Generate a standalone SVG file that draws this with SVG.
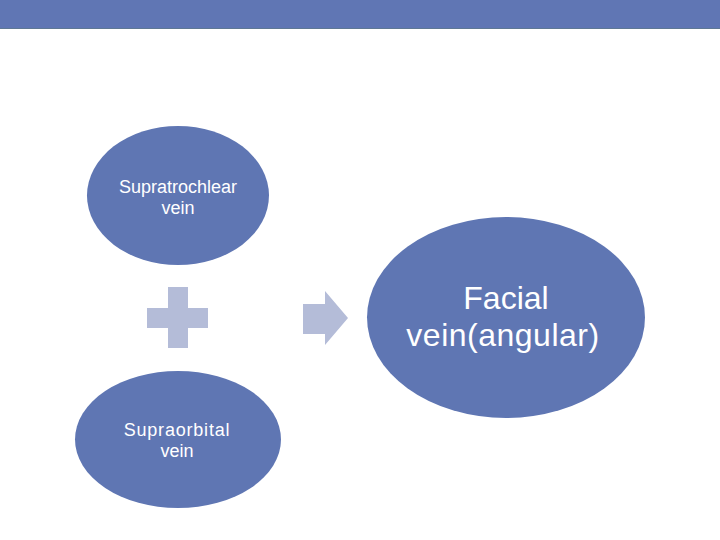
<svg xmlns="http://www.w3.org/2000/svg" width="720" height="540" viewBox="0 0 720 540">
<style>
.node{fill:#5F76B3}
.t{fill:#fff;font-family:"Liberation Sans",Arial,sans-serif;text-anchor:middle}
.s{font-size:18px}
.l{font-size:32px}
.sym{fill:#B4BCD8}
</style>
<rect x="0" y="0" width="720" height="28" fill="#6076B4"/>
<rect x="0" y="28" width="720" height="1" fill="#5F7894"/>
<g id="supratrochlear">
<ellipse class="node" cx="178" cy="195.5" rx="91" ry="69.5"/>
<text class="t s" x="178" y="193">Supratrochlear</text>
<text class="t s" x="178" y="214">vein</text>
</g>
<g id="supraorbital">
<ellipse class="node" cx="178" cy="439.5" rx="103" ry="68.5"/>
<text class="t s" x="177" y="436" letter-spacing="0.8">Supraorbital</text>
<text class="t s" x="177" y="457">vein</text>
</g>
<g id="facial">
<ellipse class="node" cx="506" cy="317.5" rx="139" ry="100.5"/>
<text class="t l" x="506" y="309">Facial</text>
<text class="t l" x="503" y="346" letter-spacing="0.5">vein(angular)</text>
</g>
<g id="connectors">
<path class="sym" d="M168 287H188V308H208V328H188V348H168V328H147V308H168Z"/>
<path class="sym" d="M303 304H325V291L348 318L325 345V334H303Z"/>
</g>
</svg>
